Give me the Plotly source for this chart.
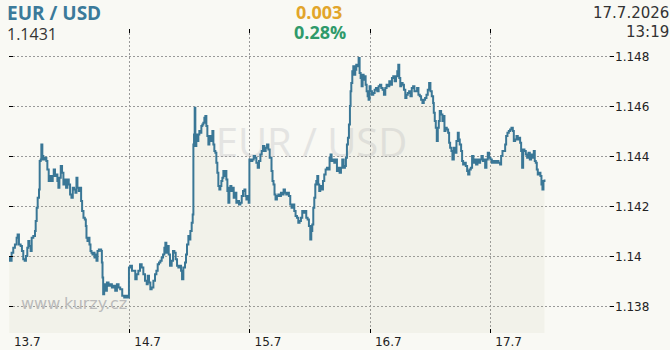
import plotly.graph_objects as go

# time in hours from 13.7 00:00, EUR/USD rate
hours = [
    0.0, 0.13, 0.47, 0.8, 1.13, 1.47, 1.67, 1.93, 2.27, 2.53,
    2.8, 3.07, 3.33, 3.6, 3.8, 4.0, 4.27, 4.47, 4.8, 5.13,
    5.27, 5.47, 5.67, 5.93, 6.07, 6.27, 6.4, 6.6, 6.8, 7.13,
    7.4, 7.6, 7.87, 8.13, 8.4, 8.67, 8.87, 9.13, 9.33, 9.6,
    9.8, 10.0, 10.27, 10.53, 10.8, 11.07, 11.33, 11.6, 11.87, 12.13,
    12.4, 12.67, 12.93, 13.2, 13.4, 13.6, 13.87, 14.13, 14.33, 14.53,
    14.8, 15.07, 15.27, 15.4, 15.6, 15.8, 16.0, 16.2, 16.4, 16.6,
    16.8, 17.0, 17.2, 17.4, 17.6, 17.87, 18.13, 18.33, 18.47, 18.6,
    18.73, 18.93, 19.13, 19.47, 19.8, 20.13, 20.47, 20.8, 21.13, 21.47,
    21.8, 22.13, 22.53, 22.93, 23.33, 23.73, 23.87, 24.13, 24.47, 24.8,
    25.13,
    25.41, 25.74, 26.08, 26.41, 26.74, 27.07, 27.41, 27.61, 27.87, 28.14,
    28.4, 28.74, 29.07, 29.34, 29.6, 29.87, 30.13, 30.4, 30.67, 30.93,
    31.13, 31.33, 31.6, 31.8, 32.06, 32.39, 32.66, 32.93, 33.19, 33.46,
    33.72, 33.99, 34.26, 34.46, 34.72, 35.05, 35.25, 35.45, 35.72, 35.92,
    36.12, 36.38, 36.58, 36.72, 36.85, 36.98, 37.11, 37.31, 37.51, 37.71,
    37.91, 38.11, 38.31, 38.51, 38.71, 38.91, 39.11, 39.31, 39.51, 39.71,
    39.91, 40.11, 40.31, 40.51, 40.71, 40.9, 41.1, 41.3, 41.5, 41.7,
    41.9, 42.1, 42.3, 42.5, 42.7, 42.9, 43.1, 43.3, 43.5, 43.7,
    43.9, 44.1, 44.3, 44.5, 44.76, 45.03, 45.29, 45.56, 45.82, 46.09,
    46.36, 46.62, 46.89, 47.09, 47.29, 47.49, 47.75, 47.89, 48.15, 48.48,
    48.75, 49.02, 49.28, 49.55, 49.81, 50.08, 50.35, 50.61, 50.88, 51.14,
    51.41, 51.68, 51.94,
    52.3, 52.5, 52.7, 52.9, 53.1, 53.38, 53.65, 53.91, 54.18, 54.44,
    54.71, 54.98, 55.24, 55.51, 55.77, 56.04, 56.3, 56.57, 56.84, 57.1,
    57.37, 57.64, 57.9, 58.17, 58.43, 58.7, 58.96, 59.23, 59.5, 59.76,
    60.03, 60.23, 60.43, 60.63, 60.83, 61.03, 61.23, 61.43, 61.62, 61.82,
    62.02, 62.29, 62.56, 62.82, 63.09, 63.35, 63.62, 63.88, 64.08, 64.28,
    64.55, 64.82, 65.08, 65.35, 65.61, 65.88, 66.15, 66.41, 66.68, 66.94,
    67.14, 67.34, 67.54, 67.74, 67.94, 68.07, 68.21, 68.41, 68.61, 68.81,
    69.0, 69.2, 69.47, 69.67, 69.87, 70.07, 70.27, 70.47, 70.67, 70.87,
    71.07, 71.27, 71.47, 71.66, 71.86, 72.06, 72.33, 72.6, 72.86, 73.13,
    73.39, 73.66, 73.93, 74.19, 74.46, 74.72, 74.99, 75.25, 75.52, 75.79,
    76.05, 76.32, 76.58, 76.85, 77.12, 77.38, 77.58, 77.78, 77.98, 78.18,
    78.45, 78.71, 78.98,
    79.21, 79.47, 79.74, 80.0, 80.27, 80.54, 80.8, 81.07, 81.33, 81.6,
    81.87, 82.13, 82.4, 82.66, 82.93, 83.2, 83.46, 83.73, 83.99, 84.26,
    84.53, 84.66, 84.86, 85.06, 85.26, 85.46, 85.66, 85.85, 86.12, 86.39,
    86.59, 86.79, 86.99, 87.25, 87.52, 87.72, 87.92, 88.18, 88.38, 88.65,
    88.91, 89.18, 89.45, 89.64, 89.84, 90.11, 90.31, 90.51, 90.77, 91.04,
    91.31, 91.51, 91.77, 92.04, 92.3, 92.57, 92.84, 93.1, 93.37, 93.63,
    93.9, 94.17, 94.43, 94.7, 94.9, 95.16, 95.43, 95.7, 95.96, 96.23,
    96.56, 96.89, 97.22, 97.56, 97.89, 98.09, 98.36, 98.62, 98.89, 99.09,
    99.35, 99.62, 99.88, 100.15, 100.42, 100.62, 100.88, 101.15, 101.41, 101.68,
    101.88, 102.08, 102.28, 102.48, 102.74, 103.01, 103.28, 103.54, 103.81, 104.07,
    104.34, 104.6, 104.8, 105.0, 105.2, 105.4, 105.67, 105.93, 106.13, 106.33,
    106.53, 106.73,
]

rate = [
    1.13996, 1.13983, 1.14016, 1.14036, 1.14049, 1.14076, 1.14089, 1.14049, 1.14043, 1.14023,
    1.13989, 1.13983, 1.14003, 1.14036, 1.14063, 1.14043, 1.14023, 1.14076, 1.14083, 1.14103,
    1.14143, 1.14196, 1.14236, 1.14269, 1.14383, 1.14389, 1.14449, 1.14403, 1.14389, 1.14396,
    1.14383, 1.14349, 1.14303, 1.14323, 1.14303, 1.14323, 1.14349, 1.14323, 1.14329, 1.14303,
    1.14276, 1.14316, 1.14363, 1.14336, 1.14289, 1.14309, 1.14276, 1.14309, 1.14289, 1.14249,
    1.14236, 1.14276, 1.14269, 1.14256, 1.14316, 1.14276, 1.14263, 1.14276, 1.14223, 1.14183,
    1.14156, 1.14149, 1.14123, 1.14076, 1.14063, 1.14076, 1.14049, 1.14023, 1.14016, 1.14009,
    1.14016, 1.13996, 1.14009, 1.13983, 1.14023, 1.14029, 1.14029, 1.14023, 1.13976, 1.13916,
    1.13849, 1.13889, 1.13863, 1.13896, 1.13883, 1.13889, 1.13876, 1.13883, 1.13863, 1.13889,
    1.13876, 1.13869, 1.13843, 1.13836, 1.13843, 1.13836, 1.13956, 1.13963, 1.13943, 1.13943,
    1.13909,
    1.13929, 1.13943, 1.13969, 1.13956, 1.13929, 1.13903, 1.13889, 1.13923, 1.13896, 1.13869,
    1.13876, 1.13903, 1.13929, 1.13943, 1.13969, 1.13976, 1.13983, 1.13996, 1.14009, 1.14036,
    1.14056, 1.14016, 1.14043, 1.14009, 1.13963, 1.13983, 1.14023, 1.14016, 1.13989, 1.13963,
    1.13956, 1.13963, 1.13943, 1.13909, 1.13956, 1.13976, 1.14009, 1.14049, 1.14083, 1.14069,
    1.14103, 1.14136, 1.14169, 1.14449, 1.14489, 1.14596, 1.14443, 1.14489, 1.14463, 1.14489,
    1.14503, 1.14496, 1.14523, 1.14529, 1.14536, 1.14556, 1.14563, 1.14523, 1.14483, 1.14449,
    1.14483, 1.14463, 1.14483, 1.14503, 1.14449, 1.14423, 1.14416, 1.14376, 1.14336, 1.14283,
    1.14269, 1.14283, 1.14303, 1.14316, 1.14343, 1.14323, 1.14343, 1.14309, 1.14263, 1.14216,
    1.14276, 1.14283, 1.14263, 1.14276, 1.14236, 1.14256, 1.14216, 1.14223, 1.14209, 1.14216,
    1.14243, 1.14263, 1.14269, 1.14243, 1.14229, 1.14243, 1.14216, 1.14389, 1.14383, 1.14389,
    1.14403, 1.14396, 1.14376, 1.14356, 1.14383, 1.14409, 1.14423, 1.14443, 1.14423, 1.14436,
    1.14449, 1.14429, 1.14396,
    1.14343, 1.14303, 1.14289, 1.14249, 1.14229, 1.14243, 1.14249, 1.14243, 1.14256, 1.14249,
    1.14269, 1.14256, 1.14249, 1.14256, 1.14243, 1.14209, 1.14196, 1.14209, 1.14183, 1.14163,
    1.14156, 1.14136, 1.14143, 1.14156, 1.14183, 1.14176, 1.14183, 1.14156, 1.14149, 1.14123,
    1.14069, 1.14103, 1.14129, 1.14196, 1.14236, 1.14289, 1.14303, 1.14323, 1.14289, 1.14263,
    1.14283, 1.14269, 1.14303, 1.14329, 1.14349, 1.14356, 1.14349, 1.14396, 1.14409, 1.14383,
    1.14389, 1.14376, 1.14389, 1.14343, 1.14356, 1.14336, 1.14356, 1.14389, 1.14356, 1.14363,
    1.14396, 1.14449, 1.14476, 1.14529, 1.14603, 1.14663, 1.14696, 1.14743, 1.14763, 1.14729,
    1.14749, 1.14769, 1.14763, 1.14796, 1.14736, 1.14716, 1.14683, 1.14729, 1.14709, 1.14723,
    1.14689, 1.14663, 1.14643, 1.14629, 1.14683, 1.14663, 1.14649, 1.14656, 1.14669, 1.14676,
    1.14663, 1.14683, 1.14689, 1.14676, 1.14669, 1.14649, 1.14676, 1.14689, 1.14683, 1.14703,
    1.14689, 1.14716, 1.14723, 1.14703, 1.14723, 1.14743, 1.14769, 1.14716, 1.14683, 1.14696,
    1.14689, 1.14669, 1.14636,
    1.14649, 1.14656, 1.14663, 1.14643, 1.14676, 1.14683, 1.14663, 1.14663, 1.14676, 1.14649,
    1.14643, 1.14629, 1.14616, 1.14629, 1.14636, 1.14649, 1.14669, 1.14696, 1.14663, 1.14643,
    1.14616, 1.14576, 1.14543, 1.14516, 1.14463, 1.14516, 1.14543, 1.14583, 1.14569, 1.14543,
    1.14563, 1.14503, 1.14516, 1.14509, 1.14496, 1.14456, 1.14436, 1.14423, 1.14389, 1.14436,
    1.14416, 1.14463, 1.14496, 1.14469, 1.14449, 1.14423, 1.14383, 1.14369, 1.14376, 1.14363,
    1.14343, 1.14329, 1.14349, 1.14356, 1.14403, 1.14376, 1.14389, 1.14369, 1.14389, 1.14376,
    1.14389, 1.14403, 1.14383, 1.14389, 1.14356, 1.14389, 1.14416, 1.14396, 1.14389, 1.14376,
    1.14383, 1.14376, 1.14383, 1.14376, 1.14369, 1.14403, 1.14423, 1.14423, 1.14449, 1.14483,
    1.14496, 1.14503, 1.14509, 1.14516, 1.14503, 1.14463, 1.14469, 1.14483, 1.14469, 1.14476,
    1.14456, 1.14423, 1.14356, 1.14429, 1.14423, 1.14409, 1.14396, 1.14416, 1.14389, 1.14409,
    1.14396, 1.14423, 1.14383, 1.14376, 1.14349, 1.14329, 1.14336, 1.14323, 1.14289, 1.14269,
    1.14303, 1.14309,
]

day_ticks = [0, 24, 48, 72, 96]
day_labels = ["13.7", "14.7", "15.7", "16.7", "17.7"]
rate_ticks = [1.138, 1.140, 1.142, 1.144, 1.146, 1.148]
rate_labels = ["1.138", "1.14", "1.142", "1.144", "1.146", "1.148"]

pair = "EUR / USD"
last_value = "1.1431"
change_abs = "0.003"
change_pct = "0.28%"
date_text = "17.7.2026"
time_text = "13:19"
site = "www.kurzy.cz"

BG = "#f9f9f4"
LINE = "#3a7796"
GRID = "#9a9a9a"

fig = go.Figure()
fig.add_trace(go.Scatter(
    x=hours, y=rate, mode="lines",
    line=dict(color=LINE, width=2, shape="hv"),
    fill="tozeroy", fillcolor="rgba(189,189,144,0.1)",
    hoverinfo="skip", showlegend=False,
))

axis_common = dict(
    showgrid=True, gridcolor=GRID, gridwidth=1, griddash="2px,2px",
    zeroline=False, showline=False, ticks="inside", ticklen=4,
    tickcolor="#000000", tickwidth=1, mirror="ticks", automargin=False,
    tickfont=dict(family="DejaVu Sans", size=12, color="#222222"),
)

fig.update_layout(
    width=670, height=350,
    margin=dict(l=9, r=56, t=29, b=17, pad=0, autoexpand=False),
    paper_bgcolor=BG, plot_bgcolor=BG,
    xaxis=dict(range=[-0.05, 120.6], tickvals=day_ticks, ticktext=day_labels,
               ticklabelshift=18, **axis_common),
    yaxis=dict(range=[1.13694, 1.14912], side="right", tickvals=rate_ticks,
               ticktext=rate_labels, **axis_common),
    shapes=[dict(type="rect", xref="paper", yref="paper", x0=0.3, x1=0.7,
                 y0=0.52, y1=0.72, layer="below", line=dict(width=0),
                 fillcolor="rgba(0,0,0,0)",
                 label=dict(text=pair, textposition="middle center",
                            font=dict(family="Open Sans", size=40, color="#e4e4e2")))],
)

PLOT_BOTTOM = 333
PLOT_H = 304

def px_x(X):
    return (X - 9) / 605

def px_y(Y):
    return (PLOT_BOTTOM - Y) / PLOT_H

ann = [
    dict(text="<b>" + pair + "</b>", x=px_x(5), y=px_y(12.8), xanchor="left", yanchor="middle",
         font=dict(family="Open Sans", size=19, color="#3b7a9a")),
    dict(text=last_value, x=px_x(5), y=px_y(34), xanchor="left", yanchor="middle",
         font=dict(family="Open Sans", size=16, color="#333333")),
    dict(text="<b>" + change_abs + "</b>", x=px_x(319), y=px_y(12.3), xanchor="center", yanchor="middle",
         font=dict(family="Open Sans", size=18, color="#e2a52a")),
    dict(text="<b>" + change_pct + "</b>", x=px_x(320), y=px_y(32), xanchor="center", yanchor="middle",
         font=dict(family="Open Sans", size=18, color="#2f9a6a")),
    dict(text=date_text, x=px_x(671), y=px_y(12.5), xanchor="right", yanchor="middle",
         font=dict(family="DejaVu Sans", size=15, color="#333333")),
    dict(text=time_text, x=px_x(671), y=px_y(31.5), xanchor="right", yanchor="middle",
         font=dict(family="DejaVu Sans", size=15, color="#333333")),
    dict(text=site, x=px_x(74), y=px_y(303), xanchor="center", yanchor="middle",
         font=dict(family="DejaVu Sans", size=16, color="#bbbbbb")),
]
for a in ann:
    a.update(xref="paper", yref="paper", showarrow=False)
fig.update_layout(annotations=ann)

fig.write_html("out.html")
